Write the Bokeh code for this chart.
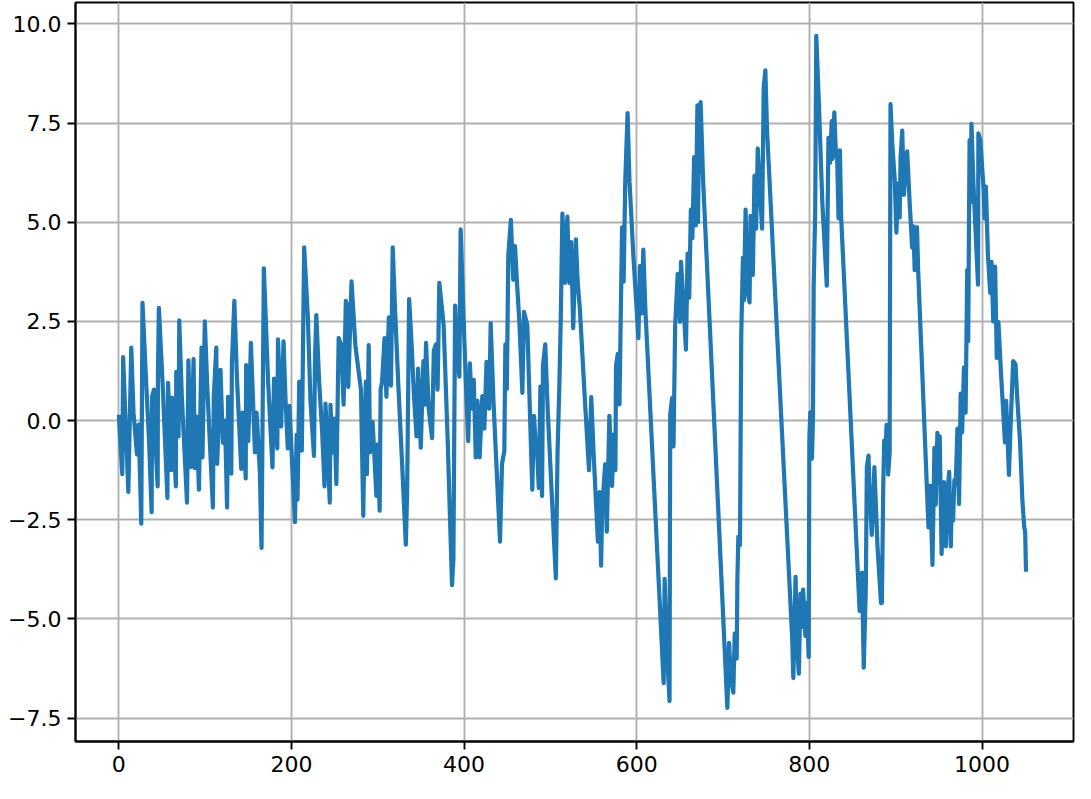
from bokeh.plotting import figure
from bokeh.models import Range1d, FixedTicker, CustomJSTickFormatter
from bokeh.embed import file_html
from bokeh.resources import INLINE

# Series (vertices of the trace)
xs = [0, 4, 5, 7.6, 11, 14.4, 17, 21, 23, 26, 27.4, 32, 35, 38, 38.5, 40.7, 43, 45, 45.3, 46.4,
      51, 56.3, 57, 60.8, 61.6, 66.1, 66.5, 69.2, 70, 73, 79, 80.6, 83.6, 86.6, 88, 90, 92.8, 95.8, 96.9, 99.6,
      102.6, 109, 110, 112.9, 113.9, 117.8, 120.5, 123, 125.4, 126.6, 130.3, 131, 133.8, 137, 141.8, 143.3, 147, 147.5, 150, 153,
      157.7, 159.6, 163.4, 165.3, 168, 172.9, 178, 179.8, 183.6, 184.4, 188, 190.8, 193, 195.7, 197.6, 204, 206, 207, 209, 212,
      214.7, 219, 222, 226.1, 227.3, 228.8, 232, 235.6, 238.3, 239.4, 242, 244.4, 245.2, 247.8, 249.7, 252, 254.7, 257.7, 260.4, 263,
      264.5, 265.8, 269.6, 274, 280.5, 283.2, 284.5, 286.2, 287.4, 289.5, 291, 294, 298.4, 300, 302.2, 303.3, 305, 307.8, 310, 312.8,
      315.3, 317.3, 320, 324, 328, 332.5, 334, 336.3, 339, 342, 344.9, 346.7, 349.8, 352.8, 354.5, 355.9, 359, 362.9, 364.9, 367.5,
      369.3, 371.3, 376.3, 381, 386, 387.6, 389.6, 392, 394.5, 396, 399, 402, 404.8, 406.7, 409, 411.2, 413.5, 415.5, 418, 421.1,
      423.5, 426, 429, 430.8, 434, 441.6, 443.9, 446.6, 447.8, 449.5, 451.2, 454.2, 456.9, 459, 461.4, 464, 467.5, 469.4, 473.2, 479,
      480.9, 483, 484.6, 486.5, 488.4, 490.3, 491.4, 494, 497, 506.3, 508.2, 510.5, 512, 513.9, 516.9, 519.6, 521.9, 524, 526.4, 529.5,
      531.5, 534.1, 540, 544.7, 547.3, 550, 555, 557, 558.7, 560, 563.4, 565.3, 568.3, 571.4, 573.4, 575.3, 576, 578, 580, 583,
      584.8, 586.7, 589.4, 591.6, 596, 601.9, 603.8, 605.7, 607.6, 610, 631.2, 632.3, 635, 638, 638.8, 641, 642.6, 644.5, 647.5, 650.2,
      651.3, 654, 657, 658.9, 660.8, 662.7, 664.5, 666.5, 668.4, 670.3, 671, 672.5, 674, 677, 705, 707, 709, 711.9, 713.5, 715.8,
      716.6, 717.7, 719.6, 721.1, 723, 724.2, 726.1, 728, 730.7, 731.8, 734.5, 736.4, 738.3, 740.2, 742.5, 745.2, 747.1, 749, 751, 780.2,
      781.4, 784, 786, 787.8, 789.7, 791, 792.8, 795.4, 797, 799.2, 800, 801.1, 803, 804.2, 805, 806.8, 808, 811, 815, 820.2,
      822.1, 824, 825.9, 827, 828.9, 830.8, 832, 833.8, 835.4, 836.9, 858.2, 860, 861, 863, 865.4, 866.6, 868.5, 870, 872.3, 874.2,
      875.3, 879, 883, 884, 885.6, 886.7, 888, 889.4, 891.3, 893, 894, 896, 898.9, 900.8, 902.7, 904.6, 905.7, 907.6, 909.5, 911,
      913.3, 916.4, 917.5, 919, 920.5, 922, 924.7, 926, 938, 940, 942.6, 944.9, 946.4, 948.3, 950, 951, 953.2, 955.9, 958.2, 960,
      962, 963.9, 965, 966.5, 968, 969.6, 971.5, 973.4, 975.3, 977, 979.1, 981, 982.9, 984, 985.6, 986.5, 987.8, 990, 995.4, 995.8,
      998.1, 1000.8, 1002, 1003, 1004.5, 1006.8, 1009.5, 1011, 1013, 1015.2, 1017.1, 1018, 1019, 1022, 1026.6, 1028, 1031.2, 1033, 1036.1, 1038.8,
      1041, 1044, 1046.8, 1049, 1050, 1051]
ys = [0.15, -1.35, 1.6, 0.1, -1.8, 1.84, 0.2, -0.85, -0.1, -2.6, 2.97, 0.8, -0.5, -2.31, 0.6, 0.78, -0.8, -1.66, 1.19, 2.84,
      0.8, -1.95, 0.95, -1.25, 0.58, -1.66, 1.23, -0.4, 2.53, 0.6, -2.07, 1.52, -1.17, 1.55, -1.2, 0.1, -1.74, 1.84, -0.93, 2.5,
      0.78, -2.19, 0.6, 1.84, -1.09, 1.28, -0.56, 0.0, -2.19, 0.6, -1.34, 1.43, 3.02, 1.0, -1.22, 0.2, -1.46, 1.4, -0.52, 1.96,
      -0.8, 0.2, -1.3, -3.21, 3.84, 1.0, -1.18, 1.06, -0.7, 2.05, -0.15, 2.0, 0.6, -0.7, 0.37, -2.56, -0.36, -1.99, 0.98, -0.76,
      4.37, 2.6, 0.5, -0.89, 1.6, 2.66, 1.0, -0.3, -1.66, 0.43, -0.8, -2.07, 0.4, -0.8, 0.05, -1.6, 2.08, 1.9, 0.4, 3.02,
      2.9, 0.85, 3.51, 1.9, 0.78, -2.4, -0.5, 0.98, -1.35, 1.9, -0.8, -0.03, -1.9, -0.6, -2.27, 0.78, 0.98, 2.08, 0.6, 2.6,
      0.88, 4.37, 2.8, 0.8, -1.0, -3.13, -1.8, 3.06, 2.0, 0.6, -0.4, 1.31, -0.68, 1.5, 0.4, 1.96, 0.3, -0.44, 1.76, 1.92,
      0.78, 3.47, 2.41, -0.5, -4.15, -3.5, 2.9, 1.68, 1.11, 4.82, 2.82, 1.0, -0.52, 1.44, 0.3, 1.03, -0.93, 0.5, -0.93, 0.62,
      -0.2, 1.48, 0.3, 2.46, 0.5, -3.05, -1.09, -0.77, 1.92, 0.8, 4.16, 5.06, 3.55, 4.4, 3.43, 2.5, 0.7, 2.74, 2.41, -1.74,
      0.12, -0.6, -0.77, -1.7, 0.86, -1.9, 1.39, 1.92, 0.2, -3.98, -0.85, 1.03, 2.6, 5.22, 3.47, 5.14, 3.47, 4.5, 2.33, 4.57,
      3.5, 2.82, 0.5, -1.25, 0.59, -0.8, -3.05, -1.8, -3.66, -2.2, -1.1, -2.8, 0.12, -1.65, -0.35, -1.25, 1.38, 1.68, 0.41, 4.87,
      3.5, 6.03, 7.75, 6.03, 4.2, 2.08, 3.9, 2.7, 4.31, 2.8, -6.62, -3.99, -5.8, -7.07, 0.16, 0.57, -0.65, 2.39, 3.7, 2.49,
      4.0, 3.0, 1.79, 4.21, 3.1, 5.32, 4.6, 6.64, 4.92, 7.95, 5.0, 7.87, 8.03, 6.0, -7.24, -5.6, -6.5, -6.86, -5.37, -6.0,
      -3.99, -2.93, -3.14, 2.18, 4.1, 3.03, 5.32, 3.3, 2.98, 5.16, 3.67, 6.17, 4.84, 6.86, 5.9, 4.84, 8.4, 8.83, 7.3, -5.53,
      -6.49, -3.94, -5.8, -6.38, -4.36, -5.2, -4.26, -5.43, -4.6, -5.96, -0.43, 0.21, -0.96, 0.11, 3.4, 5.32, 9.70, 8.0, 5.5, 3.4,
      7.13, 6.5, 7.55, 6.6, 7.77, 6.7, 6.8, 5.1, 6.81, 5.1, -4.8, -4.3, -3.83, -6.23, -4.2, -1.17, -0.88, -1.9, -2.88, -1.93,
      -1.17, -3.2, -4.6, -4.6, -1.64, -0.5, -1.0, -0.11, -1.36, -0.8, 7.98, 7.0, 6.07, 4.74, 5.98, 5.12, 6.64, 7.31, 5.69, 6.2,
      6.79, 5.4, 5.0, 4.36, 4.9, 3.79, 4.88, 3.8, -2.69, -1.64, -3.64, -0.69, -2.12, -0.31, -1.2, -0.4, -3.36, -1.55, -3.17, -1.8,
      -1.29, -3.17, -2.0, -2.52, -1.5, -1.61, -0.2, -2.1, 0.68, -0.3, 1.34, 0.2, 3.8, 2.0, 7.07, 5.5, 7.48, 6.0, 3.43, 7.24,
      7.07, 6.17, 5.8, 5.1, 5.9, 4.2, 3.22, 4.0, 2.5, 3.88, 1.58, 2.0, 2.48, 1.2, -0.55, 0.5, -1.37, -0.2, 1.5, 1.42,
      0.5, -0.5, -2.02, -2.7, -2.8, -3.81]

x_ticks = [0, 200, 400, 600, 800, 1000]
y_ticks = [-7.5, -5.0, -2.5, 0.0, 2.5, 5.0, 7.5, 10.0]

p = figure(width=1075, height=783, output_backend="svg", toolbar_location=None,
           x_range=Range1d(-50.2, 1106), y_range=Range1d(-8.09, 10.54),
           min_border_left=75, min_border_right=2, min_border_top=2, min_border_bottom=42,
           background_fill_color="white", border_fill_color="white")

p.line(xs, ys, line_color="#1f77b4", line_width=4.2, line_join="round")

p.outline_line_color = "black"
p.outline_line_width = 1.9

for ax in (p.xaxis[0], p.yaxis[0]):
    ax.axis_line_color = "black"
    ax.axis_line_width = 1.9
    ax.major_tick_line_color = "black"
    ax.major_tick_line_width = 1.9
    ax.major_tick_out = 8
    ax.major_tick_in = 0
    ax.minor_tick_line_color = None
    ax.major_label_text_font = "DejaVu Sans"
    ax.major_label_text_font_size = "22px"
    ax.major_label_text_color = "black"
    ax.major_label_standoff = 6

p.xaxis[0].ticker = FixedTicker(ticks=x_ticks)
p.yaxis[0].ticker = FixedTicker(ticks=y_ticks)
p.yaxis[0].formatter = CustomJSTickFormatter(code="return tick.toFixed(1).replace('-', '\u2212');")
p.xaxis[0].formatter = CustomJSTickFormatter(code="return tick.toFixed(0);")

p.xgrid[0].ticker = FixedTicker(ticks=x_ticks)
p.ygrid[0].ticker = FixedTicker(ticks=y_ticks)
for g in (p.xgrid[0], p.ygrid[0]):
    g.grid_line_color = "#b0b0b0"
    g.grid_line_width = 1.9
    g.grid_line_alpha = 1.0

open("out.html", "w").write(file_html(p, INLINE))
